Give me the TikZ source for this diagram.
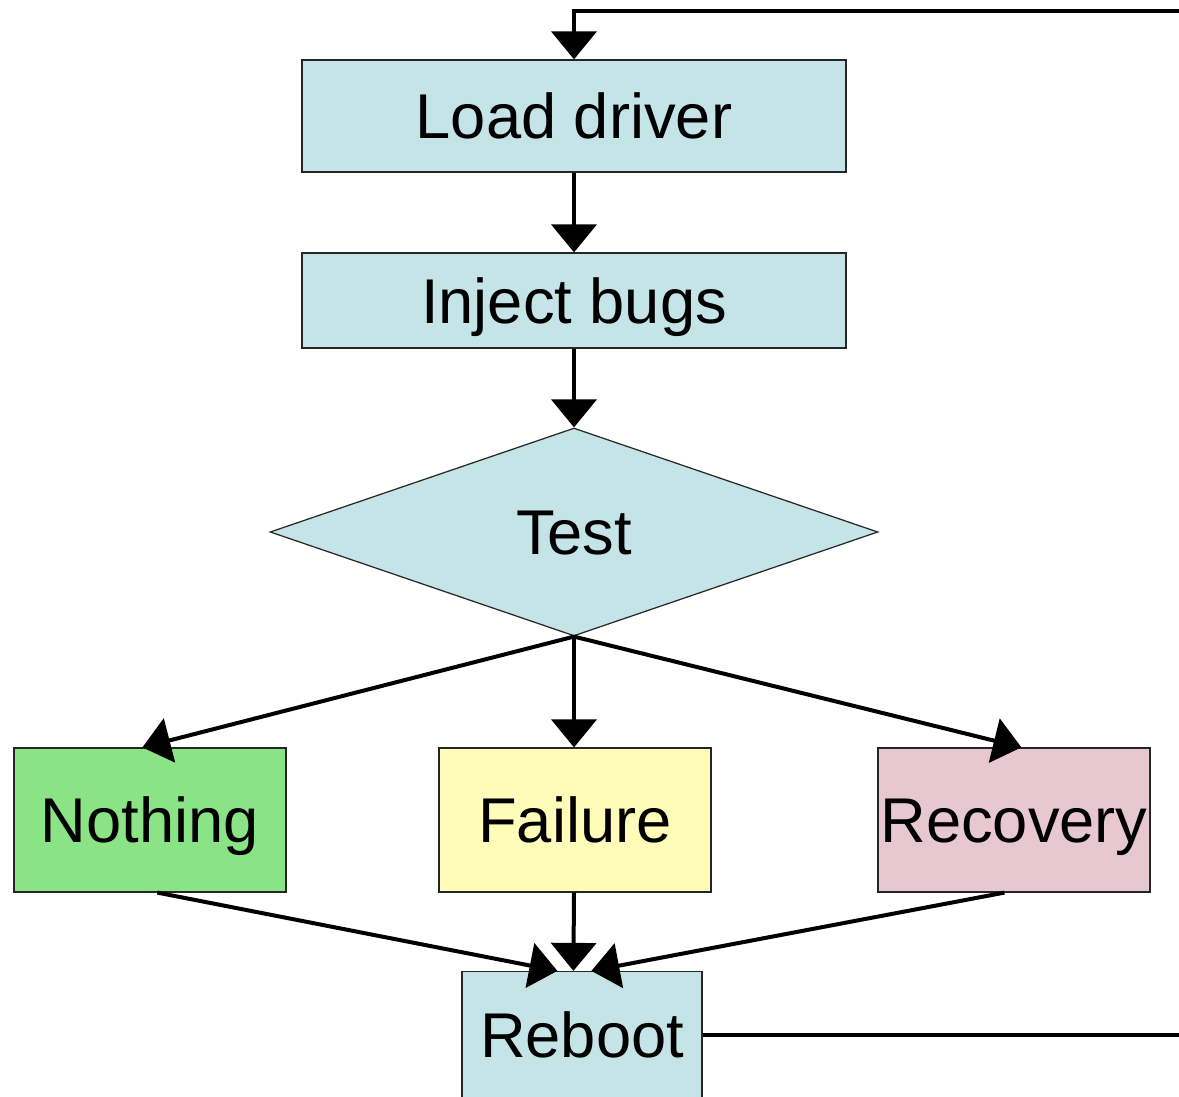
\documentclass[tikz,border=0pt]{standalone}
\usepackage{fontspec}
\setmainfont{Liberation Sans}
\usetikzlibrary{shapes.geometric,arrows.meta,calc}
\definecolor{cblue}{HTML}{C5E4E8}
\definecolor{cgreen}{HTML}{8AE485}
\definecolor{cyellow}{HTML}{FFFCBA}
\definecolor{cpink}{HTML}{E8C8D0}
\begin{document}
\begin{tikzpicture}[x=0.02cm,y=-0.02cm,
  box/.style={draw=black!85,line width=0.7pt,inner sep=0pt,font=\fontsize{36}{40}\selectfont,text height=25.8pt,text depth=0pt},
  conn/.style={line width=0.08cm,-{Triangle[length=0.56cm,width=0.9cm]}},
  plain/.style={line width=0.08cm}]
\clip (0,0) rectangle (1179,1097);
\node[box,fill=cblue,minimum width=10.88cm,minimum height=2.24cm] (load) at (574,116) {Load driver};
\node[box,fill=cblue,minimum width=10.88cm,minimum height=1.9cm] (inject) at (574,300.5) {Inject bugs};
\node[box,fill=cblue,diamond,aspect=2.92,minimum width=12.16cm,minimum height=4.16cm] (test) at (574,532) {Test};
\node[box,fill=cgreen,minimum width=5.44cm,minimum height=2.88cm] (nothing) at (150,820) {Nothing};
\node[box,fill=cyellow,minimum width=5.44cm,minimum height=2.88cm] (failure) at (575,820) {Failure};
\node[box,fill=cpink,minimum width=5.44cm,minimum height=2.88cm] (recovery) at (1014,820) {Recovery};
\node[box,fill=cblue,minimum width=4.8cm,minimum height=2.54cm] (reboot) at (582,1035) {Reboot};
\coordinate (far) at (1220,0);
\draw[conn] (load.south) -- (inject.north);
\draw[conn] (inject.south) -- (test.north);
\draw[conn] (test.south) -- ([xshift=2.58cm]nothing.north west);
\draw[conn] (test.south) -- ([xshift=-0.02cm]failure.north);
\draw[conn] (test.south) -- ([xshift=2.88cm]recovery.north west);
\draw[conn] ([xshift=2.88cm]nothing.south west) -- ([xshift=1.92cm]reboot.north west);
\draw[conn] ([xshift=-0.02cm]failure.south) -- ([xshift=2.24cm]reboot.north west);
\draw[conn] ([xshift=2.54cm]recovery.south west) -- ([xshift=2.6cm]reboot.north west);
\draw[conn] (reboot.east) -- (reboot.east -| far) |- ([yshift=0.96cm]load.north) -- (load.north);
\end{tikzpicture}
\end{document}
